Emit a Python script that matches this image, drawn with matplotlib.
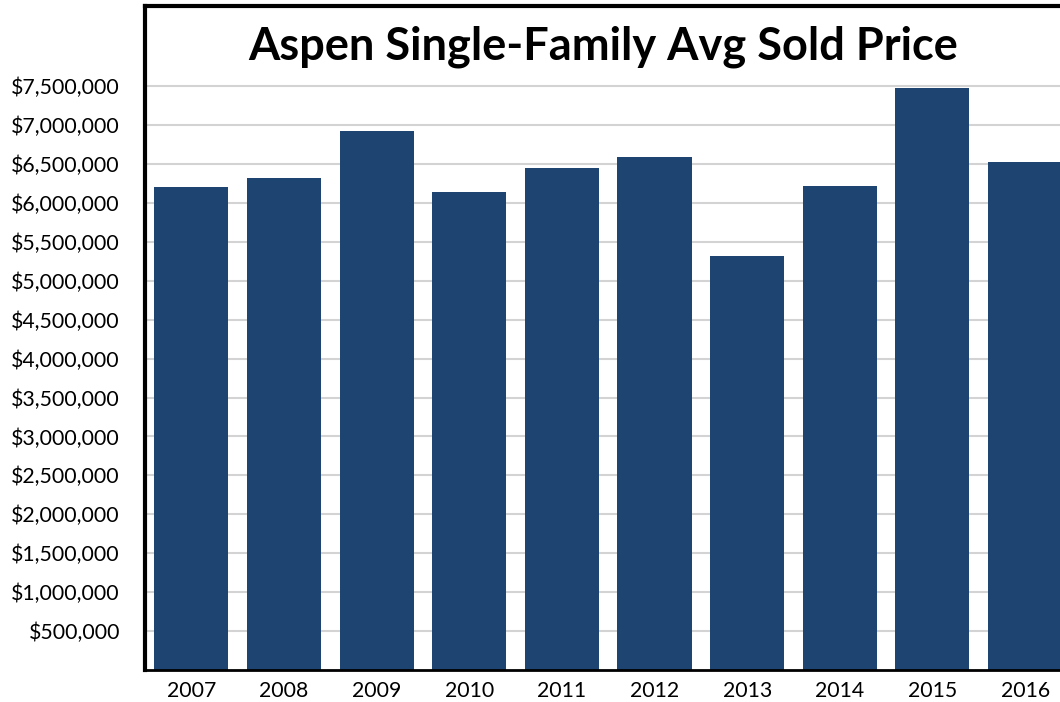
import matplotlib
matplotlib.use('Agg')
import matplotlib.pyplot as plt
from matplotlib.ticker import FuncFormatter

years = ['2007', '2008', '2009', '2010', '2011', '2012', '2013', '2014', '2015', '2016']
avg_price = [6200000, 6320000, 6920000, 6140000, 6450000, 6590000, 5320000, 6220000, 7470000, 6520000]
ytick_vals = [500000 * i for i in range(1, 16)]

plt.rcParams['font.family'] = ['Lato', 'DejaVu Sans']

fig = plt.figure(figsize=(10.6, 7.02), dpi=100)
ax = fig.add_axes([0.1368, 0.0456, 0.8652, 0.9459])

x = range(len(years))
ax.bar(x, avg_price, width=0.8, color='#1e4571', zorder=2)
ax.set_xlim(-0.5, 9.4)
ax.set_ylim(0, 8530000)
ax.set_xticks(list(x))
ax.set_xticklabels(years)
ax.set_yticks(ytick_vals)
ax.yaxis.set_major_formatter(FuncFormatter(lambda v, p: '${:,.0f}'.format(v)))
ax.tick_params(axis='both', length=0, labelsize=15.3)
ax.tick_params(axis='y', pad=18)
ax.tick_params(axis='x', pad=8)
ax.grid(axis='y', color='#d3d3d3', linewidth=1.5, zorder=0)

ax.spines['right'].set_visible(False)
ax.spines['left'].set_linewidth(3)
ax.spines['top'].set_linewidth(3)
ax.spines['bottom'].set_linewidth(2)
for s in ['left', 'top', 'bottom']:
    ax.spines[s].set_color('black')

ax.text(0.5, 0.938, 'Aspen Single-Family Avg Sold Price', transform=ax.transAxes,
        ha='center', va='center', fontsize=32.5, fontweight='bold', zorder=3)

fig.savefig('out.png', dpi=100)
